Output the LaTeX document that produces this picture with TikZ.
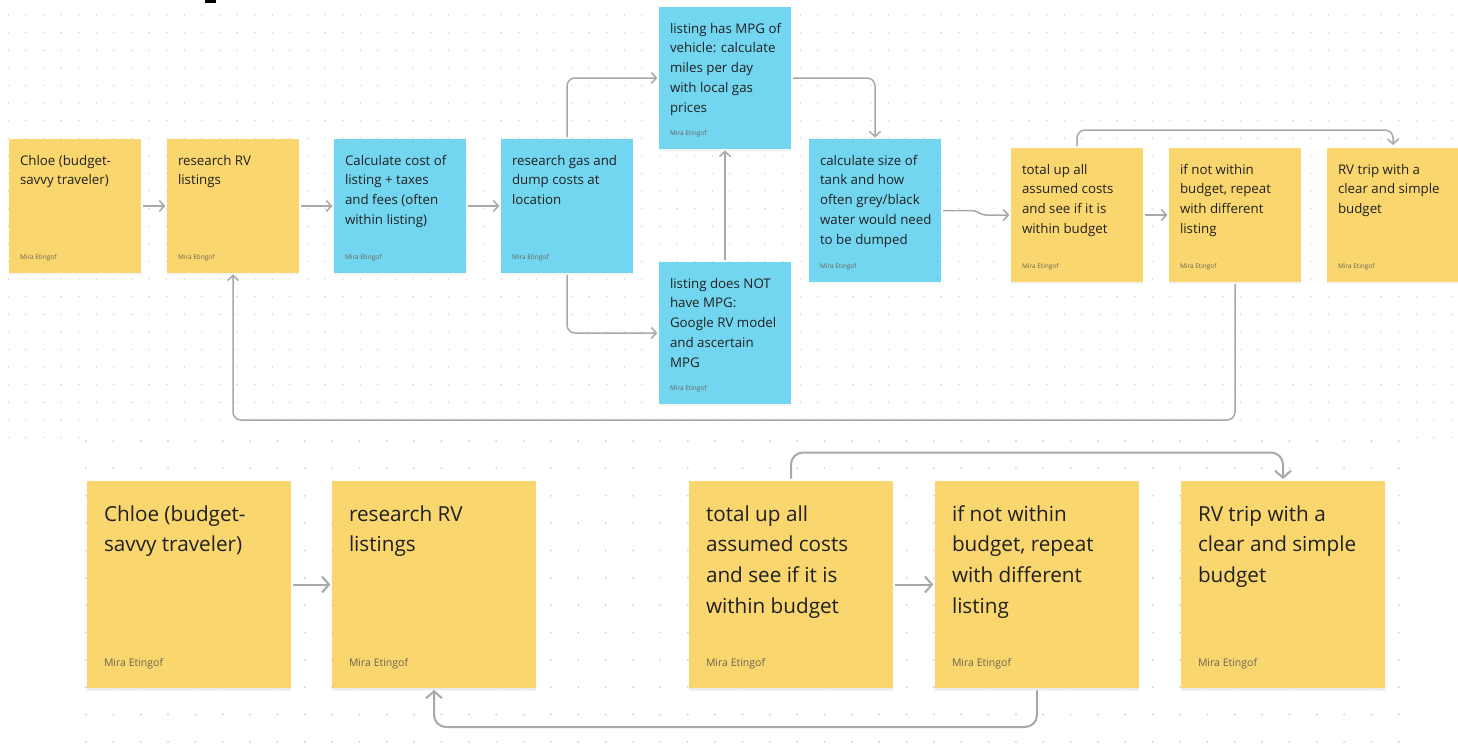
\documentclass[tikz,border=0pt]{standalone}
\usepackage{fontspec}
\setmainfont{Open Sans}
\setsansfont{Open Sans}
\usetikzlibrary{arrows.meta,shadows}

\definecolor{stickyyellow}{RGB}{250,215,110}
\definecolor{stickyblue}{RGB}{115,214,240}
\definecolor{linkgray}{RGB}{168,168,168}
\definecolor{dotgray}{RGB}{212,212,212}
\definecolor{textdark}{RGB}{32,32,32}
\definecolor{authgray}{RGB}{105,100,85}

% sticky contents: text lines on top, author at the bottom
\newcommand{\smallnote}[2]{%
  \parbox[t][#1][s]{110pt}{\fontsize{13.3}{19.8}\selectfont
    \begin{tabular}[t]{@{}l@{}}#2\end{tabular}\par\vfill
    {\fontsize{6.5}{8}\selectfont\color{authgray}Mira Etingof}}}
\newcommand{\bignote}[1]{%
  \parbox[t][167pt][s]{170pt}{\fontsize{20.7}{30.7}\selectfont
    \begin{tabular}[t]{@{}l@{}}\rule{0pt}{21pt}#1\end{tabular}\par\vfill
    {\fontsize{10.5}{12}\selectfont\color{authgray}Mira Etingof}}}

\begin{document}
\begin{tikzpicture}[
    x=1pt, y=-1pt,
    font=\sffamily,
    note/.style={rectangle, inner xsep=11pt, inner ysep=12pt, text=textdark,
                 drop shadow={shadow xshift=0pt, shadow yshift=-2pt, opacity=0.08}},
    yel/.style={note, fill=stickyyellow},
    blu/.style={note, fill=stickyblue},
    yelbig/.style={yel, inner xsep=17pt, inner ysep=19pt,
                   drop shadow={shadow xshift=0pt, shadow yshift=-3pt, opacity=0.08}},
    flow/.style={draw=linkgray, line width=1.5pt, rounded corners=8pt,
                 -{Straight Barb[length=5pt,width=11pt]},
                 shorten <=2pt, shorten >=1.5pt},
    bigflow/.style={flow, line width=2pt, rounded corners=12pt,
                    -{Straight Barb[length=7pt,width=16pt]}},
  ]

  \useasboundingbox (0,0) rectangle (1458,744);
  \fill[white] (0,0) rectangle (1458,744);

  % --- Dot grids ----------------------------------------------------------
  \foreach \i in {0,...,82}
    \foreach \j in {0,...,23}
      \fill[dotgray] (8.3+17.6*\i, 15+17.6*\j) circle (0.8);
  \foreach \i in {0,...,4,80,81,82}
    \fill[dotgray] (8.3+17.6*\i, 437.4) circle (0.8);
  \foreach \i in {0,...,48}
    \foreach \j in {0,...,11}
      \fill[dotgray] (86+27.35*\i, 441+27.35*\j) circle (1.1);
  \fill[black] (205,0) rectangle (216,3);

  % --- Small board --------------------------------------------------------
  \node[yel] (chloe) at (75,206)  {\smallnote{108pt}{Chloe (budget-\\savvy traveler)}};
  \node[yel] (rv)    at (233,206) {\smallnote{108pt}{research RV\\listings}};
  \node[blu] (cost)  at (400,206) {\smallnote{108pt}{Calculate cost of\\listing + taxes\\and fees (often\\within listing)}};
  \node[blu] (gas)   at (567,206) {\smallnote{108pt}{research gas and\\dump costs at\\location}};
  \node[blu] (mpg)   at (725,78)  {\smallnote{116pt}{listing has MPG of\\vehicle: calculate\\miles per day\\with local gas\\prices}};
  \node[blu] (nompg) at (725,333) {\smallnote{116pt}{listing does NOT\\have MPG:\\Google RV model\\and ascertain\\MPG}};
  \node[blu] (tank)  at (875,210.5) {\smallnote{117pt}{calculate size of\\tank and how\\often grey/black\\water would need\\to be dumped}};
  \node[yel] (total) at (1077,215) {\smallnote{108pt}{total up all\\assumed costs\\and see if it is\\within budget}};
  \node[yel] (again) at (1235,215) {\smallnote{108pt}{if not within\\budget, repeat\\with different\\listing}};
  \node[yel] (trip)  at (1393,215) {\smallnote{108pt}{RV trip with a\\clear and simple\\budget}};

  \coordinate (back) at (0,420);

  \draw[flow] (chloe) -- (rv);
  \draw[flow] (rv) -- (cost);
  \draw[flow] (cost) -- (gas);
  \draw[flow] (gas.north) |- (mpg.west);
  \draw[flow] (gas.south) |- (nompg.west);
  \draw[flow] (nompg) -- (mpg);
  \draw[flow] (mpg.east) -| (tank.north);
  \draw[flow, rounded corners=3pt] (tank.east) -- ([xshift=-36pt]tank.east -| total.west)
    -- ([xshift=-28pt]total.west) -- (total.west);
  \draw[flow] (total) -- (again);
  \draw[flow, shorten >=3pt] (total.north) -- ([yshift=18pt]total.north) -| (trip.north);
  \draw[flow] (again.south) -- (again.south |- back) -| (rv.south);

  % --- Large board --------------------------------------------------------
  \node[yelbig] (bchloe) at (189,584.5)  {\bignote{Chloe (budget-\\savvy traveler)}};
  \node[yelbig] (brv)    at (434,584.5)  {\bignote{research RV\\listings}};
  \node[yelbig] (btotal) at (791,584.5)  {\bignote{total up all\\assumed costs\\and see if it is\\within budget}};
  \node[yelbig] (bagain) at (1037,584.5) {\bignote{if not within\\budget, repeat\\with different\\listing}};
  \node[yelbig] (btrip)  at (1283,584.5) {\bignote{RV trip with a\\clear and simple\\budget}};

  \coordinate (bback) at (0,727);

  \draw[bigflow] (bchloe) -- (brv);
  \draw[bigflow] (btotal) -- (bagain);
  \draw[bigflow] (btotal.north) -- ([yshift=28pt]btotal.north) -| (btrip.north);
  \draw[bigflow] (bagain.south) -- (bagain.south |- bback) -| (brv.south);

\end{tikzpicture}
\end{document}
